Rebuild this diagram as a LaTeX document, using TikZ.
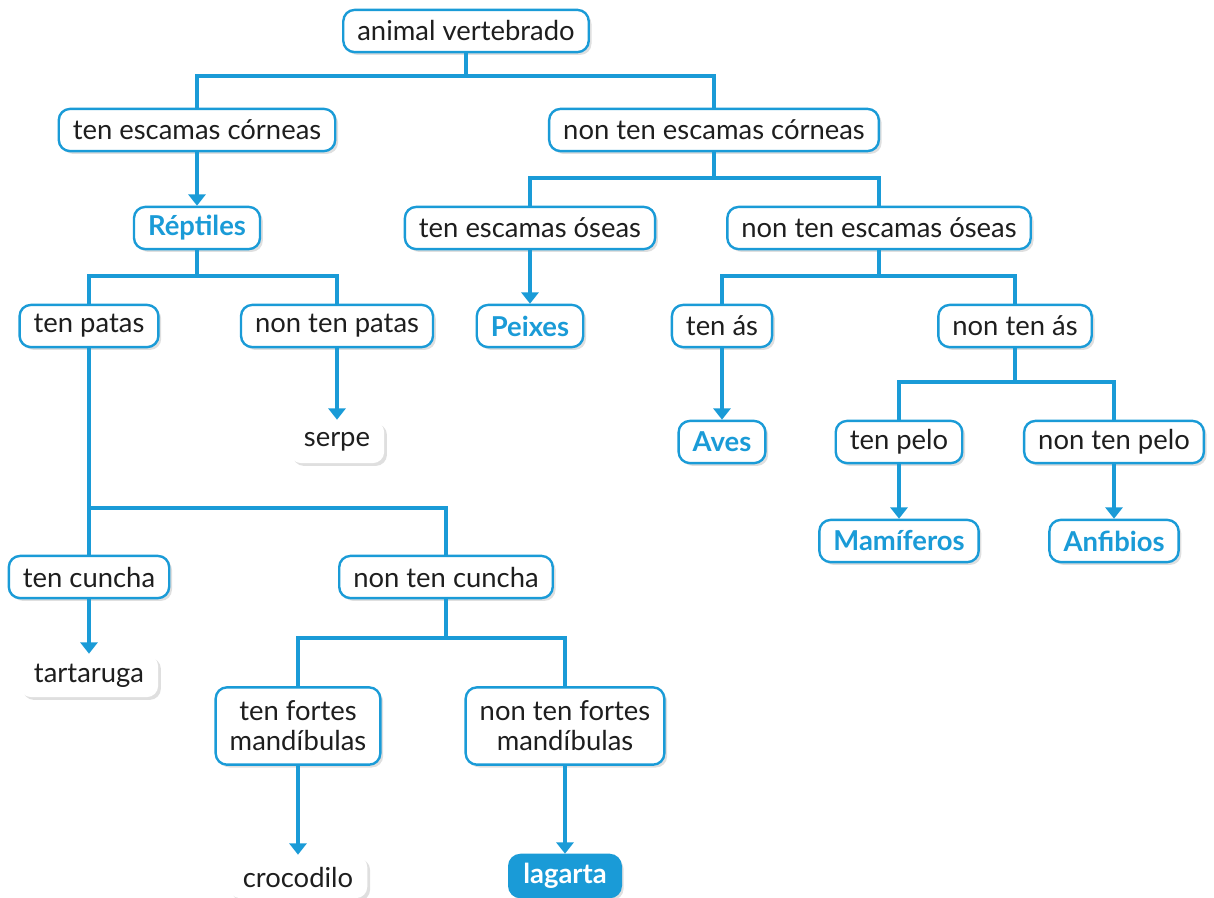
\documentclass[tikz,border=0pt]{standalone}
\usepackage{fontspec}
\setmainfont{Lato}
\usetikzlibrary{arrows.meta,shadows}

\definecolor{keyblue}{RGB}{26,155,215}
\definecolor{keytext}{RGB}{30,30,30}

\begin{document}
\begin{tikzpicture}[x=0.025cm, y=-0.025cm,
		box/.style={draw=keyblue, line width=1.7pt, fill=white, rounded corners=8pt,
			minimum height=30pt, inner xsep=10pt, inner ysep=3pt, text=keytext,
			font=\fontsize{19.5}{21.5}\selectfont, align=center,
			drop shadow={opacity=0.25, shadow xshift=2pt, shadow yshift=-2pt}},
		group/.style={box, text=keyblue, font=\fontsize{19.5}{21.5}\selectfont\bfseries},
		leaf/.style={box, draw=none},
		answer/.style={box, fill=keyblue, text=white, font=\fontsize{19.5}{21.5}\selectfont\bfseries},
		twoline/.style={box, minimum height=55pt},
		branch/.style={draw=keyblue, line width=2.3pt},
		arr/.style={branch, -{Triangle[width=12pt, length=8pt]}}]
	\path[use as bounding box] (0,0) rectangle (1214,897);
	
	% Level 1
	\node[box] (av) at (466,31) {animal vertebrado};
	
	% Level 2
	\node[box] (tec) at (197,130) {ten escamas córneas};
	\node[box] (ntec) at (714,130) {non ten escamas córneas};
	
	% Level 3
	\node[group] (rep) at (197,228) {Réptiles};
	\node[box] (teo) at (530,228) {ten escamas óseas};
	\node[box] (nteo) at (879,228) {non ten escamas óseas};
	
	% Level 4
	\node[box] (tp) at (89,326) {ten patas};
	\node[box] (ntp) at (337,326) {non ten patas};
	\node[group] (pei) at (530,326) {Peixes};
	\node[box] (ta) at (722,326) {ten ás};
	\node[box] (nta) at (1015,326) {non ten ás};
	
	% Level 5
	\node[leaf] (ser) at (337,442) {serpe};
	\node[group] (ave) at (722,442) {Aves};
	\node[box] (tpe) at (899,442) {ten pelo};
	\node[box] (ntpe) at (1114,442) {non ten pelo};
	
	% Level 6
	\node[group] (mam) at (899,541) {Mamíferos};
	\node[group] (anf) at (1114,541) {Anfibios};
	\node[box] (tc) at (89,577) {ten cuncha};
	\node[box] (ntc) at (446,577) {non ten cuncha};
	\node[leaf] (tar) at (89,676) {tartaruga};
	
	% Level 7
	\node[twoline] (tfm) at (298,726) {ten fortes\\mandíbulas};
	\node[twoline] (ntfm) at (565,726) {non ten fortes\\mandíbulas};
	\node[leaf] (cro) at (298,877) {crocodilo};
	\node[answer] (lag) at (565,876) {lagarta};
	
	% Bars
	\coordinate (b1) at (466,76);
	\coordinate (b2) at (714,178);
	\coordinate (b3) at (197,276);
	\coordinate (b4) at (879,276);
	\coordinate (b5) at (1015,382);
	\coordinate (b6) at (89,508);
	\coordinate (b7) at (446,638);
	
	% Branches
	\draw[branch] (av.south) -- (b1);
	\draw[branch] (tec.north) |- (b1) -| (ntec.north);
	\draw[branch] (ntec.south) -- (b2);
	\draw[branch] (teo.north) |- (b2) -| (nteo.north);
	\draw[branch] (rep.south) -- (b3);
	\draw[branch] (tp.north) |- (b3) -| (ntp.north);
	\draw[branch] (nteo.south) -- (b4);
	\draw[branch] (ta.north) |- (b4) -| (nta.north);
	\draw[branch] (nta.south) -- (b5);
	\draw[branch] (tpe.north) |- (b5) -| (ntpe.north);
	\draw[branch] (tp.south) -- (b6) -| (ntc.north);
	\draw[branch] (b6) -- (tc.north);
	\draw[branch] (ntc.south) -- (b7);
	\draw[branch] (tfm.north) |- (b7) -| (ntfm.north);
	
	% Arrows
	\draw[arr] (tec) -- (rep);
	\draw[arr] (teo) -- (pei);
	\draw[arr] (ntp) -- (ser);
	\draw[arr] (ta) -- (ave);
	\draw[arr] (tpe) -- (mam);
	\draw[arr] (ntpe) -- (anf);
	\draw[arr] (tc) -- (tar);
	\draw[arr] (tfm) -- (cro);
	\draw[arr] (ntfm) -- (lag);
\end{tikzpicture}
\end{document}
